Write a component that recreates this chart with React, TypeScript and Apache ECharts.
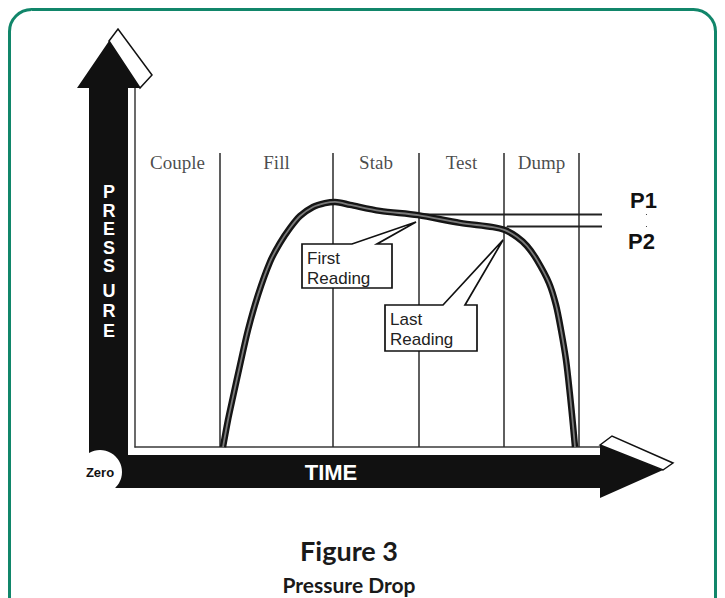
import React, { useEffect, useRef } from 'react';
import * as echarts from 'echarts';

// Phases of the test cycle and their boundaries (time units)
const phaseNames = ['Couple', 'Fill', 'Stab', 'Test', 'Dump'];
const phaseBounds = [0, 17, 39.6, 56.8, 73.8, 88.8];
const phaseLineTop = 98;
const phaseLabelLevel = 95;

// Pressure curve (time, pressure)
const curveTime = [17.6, 18.6, 19.6, 21, 22.6, 24.6, 27, 29, 31, 33, 35.6, 38, 40, 43, 49, 56.6, 65, 71.6, 74, 76.4, 78.4, 80.4, 82.8, 84.2, 85.2, 86.2, 87, 87.6, 88];
const curvePressure = [0, 9, 16.7, 27.3, 39, 50.7, 61.7, 68, 73, 77, 80, 81.3, 81.7, 80.7, 78.7, 77.3, 74.7, 73.3, 72.3, 70, 67, 62.3, 54.7, 47.3, 39, 29, 17.3, 7.3, 0];

// Reference levels
const p1Level = 77.5;
const p2Level = 73.5;
const p1Start = 56.6;
const p2Start = 74.4;
const pLineEnd = 102.3;

// Reading points
const firstReadingAt = [56.2, 75];
const lastReadingAt = [73.6, 69];

const sans = '"Liberation Sans", Arial, Helvetica, sans-serif';
const serif = '"Liberation Serif", "Times New Roman", serif';
const titleFont = 'Lato, "Comic Sans MS", "DejaVu Sans", sans-serif';

export default function App() {
  const ref = useRef<HTMLDivElement>(null);
  useEffect(() => {
    if (!ref.current) return;
    const chart = echarts.init(ref.current, undefined, { renderer: 'svg' });
    const midpoints = phaseNames.map((n, i) => ({
      name: n,
      value: [(phaseBounds[i] + phaseBounds[i + 1]) / 2, phaseLabelLevel],
    }));
    const curve = curveTime.map((t, i) => [t, curvePressure[i]]);
    const pLabel = (text: string, pos: string, off: number[]) => ({
      show: true,
      position: pos,
      distance: 3,
      offset: off,
      formatter: text,
      fontFamily: sans,
      fontWeight: 'bold',
      fontSize: 22,
      color: '#111',
    });
    chart.setOption({
      animation: false,
      backgroundColor: '#ffffff',
      grid: { left: 135, top: 87, width: 465, height: 360 },
      xAxis: {
        type: 'value', min: 0, max: 93,
        axisLine: { show: true, onZero: false, lineStyle: { color: '#3a3a3a', width: 1.5 } },
        axisTick: { show: false }, axisLabel: { show: false }, splitLine: { show: false },
      },
      yAxis: {
        type: 'value', min: 0, max: 120,
        axisLine: { show: true, onZero: false, lineStyle: { color: '#3a3a3a', width: 1.5 } },
        axisTick: { show: false }, axisLabel: { show: false }, splitLine: { show: false },
      },
      series: [
        {
          type: 'lines',
          coordinateSystem: 'cartesian2d',
          silent: true,
          lineStyle: { color: '#2a2a2a', width: 1.5, opacity: 1 },
          data: phaseBounds.slice(1).map((x) => ({ coords: [[x, 0], [x, phaseLineTop]] })),
          z: 2,
        },
        {
          type: 'scatter',
          symbolSize: 1,
          itemStyle: { color: 'rgba(0,0,0,0)' },
          data: midpoints,
          label: {
            show: true, position: 'inside', formatter: '{b}',
            fontFamily: serif, fontSize: 19, color: '#1a1a1a',
          },
          z: 2,
        },
        {
          type: 'line',
          data: curve,
          smooth: 0.3,
          showSymbol: false,
          lineStyle: { color: '#151515', width: 6.5 },
          z: 3,
        },
        {
          type: 'line',
          data: curve,
          smooth: 0.3,
          showSymbol: false,
          lineStyle: { color: '#7a7a7a', width: 1.8 },
          z: 4,
        },
        {
          type: 'line',
          clip: false,
          symbol: 'circle',
          symbolSize: 1,
          itemStyle: { color: '#222' },
          lineStyle: { color: '#222', width: 1.8 },
          data: [[p1Start, p1Level], { value: [pLineEnd, p1Level], label: pLabel('P1', 'top', [-3, 0]) }],
          z: 2,
        },
        {
          type: 'line',
          clip: false,
          symbol: 'circle',
          symbolSize: 1,
          itemStyle: { color: '#222' },
          lineStyle: { color: '#222', width: 1.8 },
          data: [[p2Start, p2Level], { value: [pLineEnd, p2Level], label: pLabel('P2', 'bottom', [-5, 0]) }],
          z: 2,
        },
      ],
    });

    const callout = (at: number[], lines: string[], box: number[], base: number[], id: string) => {
      const tip = chart.convertToPixel({ gridIndex: 0 }, at) as number[];
      const [l, r, t, b] = [tip[0] + box[0], tip[0] + box[1], tip[1] + box[2], tip[1] + box[3]];
      return [
        {
          type: 'polygon', id: id + 'box', z: 10,
          shape: {
            points: [[l, t], [tip[0] + base[0], t], tip, [tip[0] + base[1], t], [r, t], [r, b], [l, b]],
          },
          style: { fill: '#fff', stroke: '#111', lineWidth: 1.7 },
        },
        {
          type: 'text', id: id + 'txt', z: 11,
          x: l + 5, y: t + 4,
          style: {
            text: lines.join('\n'), fontFamily: sans, fontSize: 17, lineHeight: 20,
            fill: '#222', align: 'left', verticalAlign: 'top',
          },
        },
      ];
    };

    chart.setOption({
      graphic: [
        {
          type: 'rect', id: 'frame', z: 1,
          shape: { x: 9.5, y: 9.5, width: 706, height: 640, r: 22 },
          style: { fill: 'none', stroke: '#11866a', lineWidth: 3 },
        },
        {
          type: 'polygon', id: 'vshaft', z: 5,
          shape: { points: [[89, 472], [89, 88], [77, 88], [109, 41], [140, 88], [128, 88], [128, 472]] },
          style: { fill: '#111' },
        },
        {
          type: 'polygon', id: 'vstripe', z: 5,
          shape: { points: [[109, 41], [118, 29], [152, 75], [140, 88]] },
          style: { fill: '#fff', stroke: '#111', lineWidth: 1.5 },
        },
        {
          type: 'polygon', id: 'hband', z: 5,
          shape: { points: [[112, 455], [600, 455], [600, 445], [663, 470], [600, 498], [600, 488], [112, 488]] },
          style: { fill: '#111' },
        },
        {
          type: 'polygon', id: 'hstripe', z: 5,
          shape: { points: [[600, 445], [612, 436], [673, 463], [663, 470]] },
          style: { fill: '#fff', stroke: '#111', lineWidth: 1.5 },
        },
        {
          type: 'circle', id: 'zeroc', z: 6,
          shape: { cx: 100, cy: 472, r: 22 },
          style: { fill: '#fff' },
        },
        {
          type: 'text', id: 'zerot', z: 7, x: 100, y: 472,
          style: { text: 'Zero', fontFamily: sans, fontWeight: 'bold', fontSize: 13, fill: '#111', align: 'center', verticalAlign: 'middle' },
        },
        {
          type: 'text', id: 'time', z: 7, x: 331, y: 472,
          style: { text: 'TIME', fontFamily: sans, fontWeight: 'bold', fontSize: 22, fill: '#fff', align: 'center', verticalAlign: 'middle' },
        },
        {
          type: 'text', id: 'press1', z: 7, x: 109, y: 183,
          style: { text: 'P\nR\nE\nS\nS', fontFamily: sans, fontWeight: 'bold', fontSize: 18, lineHeight: 18.5, fill: '#fff', align: 'center', verticalAlign: 'top' },
        },
        {
          type: 'text', id: 'press2', z: 7, x: 109, y: 281,
          style: { text: 'U\nR\nE', fontFamily: sans, fontWeight: 'bold', fontSize: 18, lineHeight: 20, fill: '#fff', align: 'center', verticalAlign: 'top' },
        },
        {
          type: 'text', id: 'fig', z: 7, x: 349, y: 550,
          style: { text: 'Figure 3', fontFamily: titleFont, fontWeight: 'bold', fontSize: 27, fill: '#1a1a1a', align: 'center', verticalAlign: 'middle' },
        },
        {
          type: 'text', id: 'sub', z: 7, x: 349, y: 584,
          style: { text: 'Pressure Drop', fontFamily: titleFont, fontWeight: 'bold', fontSize: 21, fill: '#1a1a1a', align: 'center', verticalAlign: 'middle' },
        },
        ...callout(firstReadingAt, ['First', 'Reading'], [-114, -24, 22, 66], [-64, -39], 'first'),
        ...callout(lastReadingAt, ['Last', 'Reading'], [-118, -26, 65, 111], [-60, -38], 'last'),
      ],
    });
    return () => chart.dispose();
  }, []);
  return <div ref={ref} style={{ position: 'fixed', left: 0, top: 0, width: 725, height: 598 }} />;
}
